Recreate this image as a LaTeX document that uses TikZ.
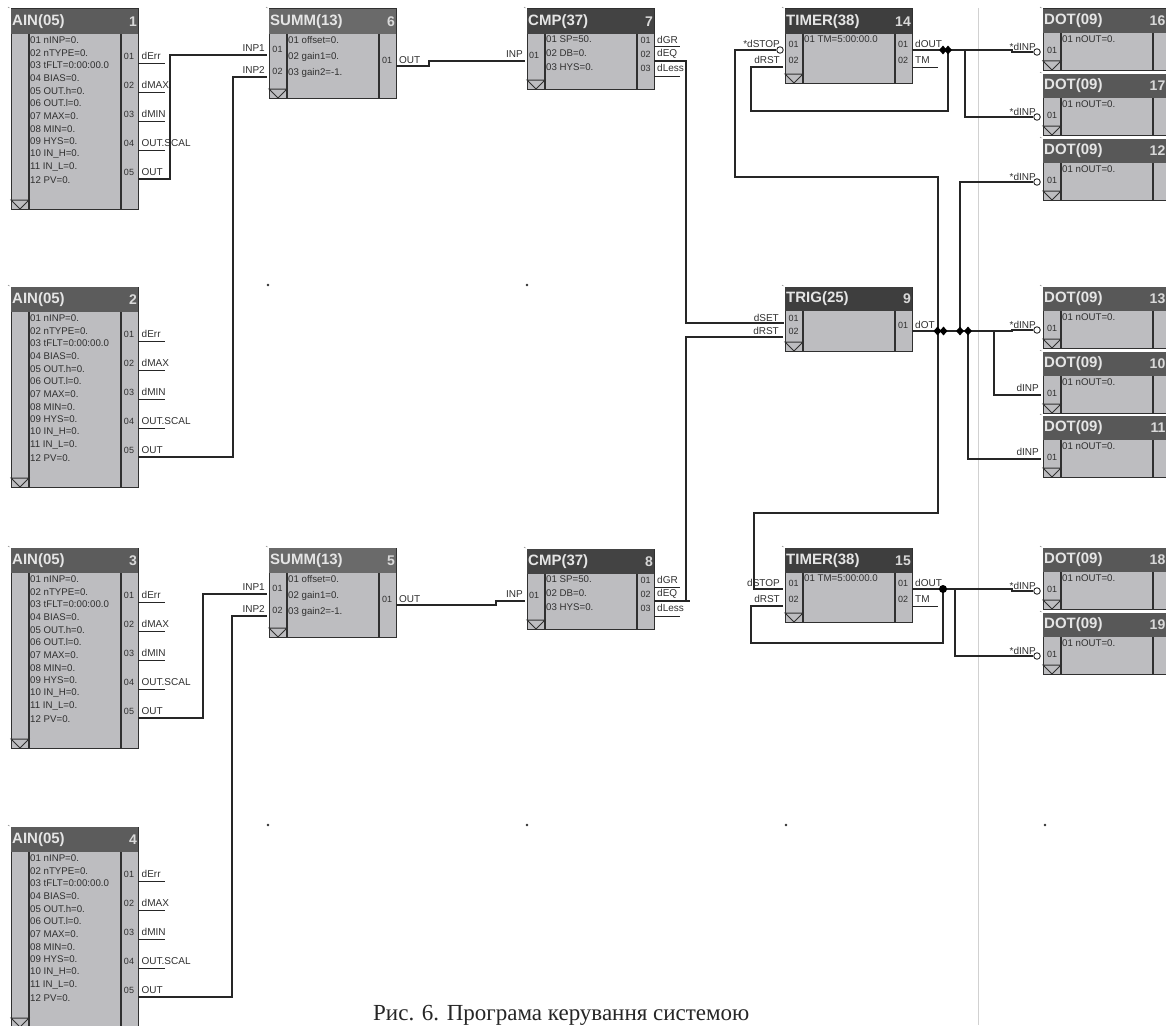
\documentclass[tikz,border=0pt]{standalone}
\usepackage{fontspec}
\setmainfont{Liberation Sans}
\newfontfamily\capfont{Liberation Serif}
\usetikzlibrary{shapes.geometric}
\definecolor{bodygray}{HTML}{BDBDC0}
\definecolor{inkc}{HTML}{303030}
\definecolor{wirec}{HTML}{262626}
\definecolor{tA}{HTML}{5C5C5C}
\definecolor{tS}{HTML}{6A6A6A}
\definecolor{tC}{HTML}{434343}
\definecolor{tT}{HTML}{3E3E3E}
\definecolor{tD}{HTML}{585858}
\tikzset{
  bodybox/.style={rectangle,draw=inkc,line width=1pt,fill=bodygray,inner sep=0pt,outer sep=0pt},
  titlebox/.style={rectangle,inner sep=0pt,outer sep=0pt},
  sepline/.style={draw=inkc,line width=1.3pt},
  titletext/.style={text=white!90!black,font=\fontsize{15}{16}\selectfont\bfseries,inner sep=0pt},
  numtext/.style={text=white!85!black,font=\fontsize{14}{15}\selectfont\bfseries,inner sep=0pt},
  ptext/.style={text=inkc,font=\fontsize{9.7}{10}\selectfont,inner sep=0pt,anchor=west},
  pintext/.style={text=inkc,font=\fontsize{9}{10}\selectfont,inner sep=0pt},
  sigl/.style={text=inkc,font=\fontsize{10}{11}\selectfont,inner sep=0pt,anchor=west},
  sigr/.style={text=inkc,font=\fontsize{10}{11}\selectfont,inner sep=0pt,anchor=east},
  wire/.style={draw=wirec,line width=1.2pt,line join=miter},
  joint/.style={diamond,fill=black,inner sep=0pt,minimum width=8pt,minimum height=9pt},
  jointc/.style={circle,fill=black,inner sep=0pt,minimum size=8pt},
  invc/.style={circle,draw=wirec,line width=.9pt,fill=white,inner sep=0pt,minimum size=6.5pt},
  griddot/.style={circle,fill=inkc,inner sep=0pt,minimum size=2.8pt},
}
\newcounter{tn}
\newcommand\lbl[4]{\stepcounter{tn}\node[#1] (t\thetn) at ({#2},{#3}) {#4};}
% name x1 y1 x2 y2 titlebottom title number titlecolour
\newcommand\fblk[9]{%
  \pgfmathsetmacro\bw{#4-#2}\pgfmathsetmacro\bh{#5-#3}%
  \pgfmathsetmacro\cx{(#2+#4)/2}\pgfmathsetmacro\cy{(#3+#5)/2}%
  \pgfmathsetmacro\hh{#6-#3}\pgfmathsetmacro\hy{(#3+#6)/2}%
  \pgfmathsetmacro\xl{#2+18}\pgfmathsetmacro\xr{#4-17}%
  \pgfmathsetmacro\xm{#2+9}\pgfmathsetmacro\yt{#5-9}%
  \pgfmathsetmacro\nx{min(#4-1,1165.5)}%
  \node[bodybox,minimum width=\bw pt,minimum height=\bh pt] (#1) at (\cx,\cy) {};
  \node[titlebox,fill=#9,minimum width=\bw pt,minimum height=\hh pt] (#1-h) at (\cx,\hy) {};
  \draw[sepline] (\xl,#6) -- (\xl,#5) (\xr,#6) -- (\xr,#5);
  \draw[sepline,line width=1pt] (#2,\yt) -- (\xl,\yt) -- (\xm,#5) -- cycle;
  \draw[gray,line width=.5pt] ({#2-3},{#3-2}) -- ++(1.5,1);
  \lbl{titletext,anchor=west}{#2+1}{\hy}{#7}
  \lbl{numtext,anchor=east}{\nx}{\hy}{#8}
}
\newcommand\ainblk[3]{% name top number
  \fblk{#1}{11}{#2}{138}{#2+200}{#2+25}{AIN(05)}{#3}{tA}
  \foreach \s [count=\i] in {01 nINP=0.,02 nTYPE=0.,03 tFLT=0:00:00.0,04 BIAS=0.,05 OUT.h=0.,06 OUT.l=0.,07 MAX=0.,08 MIN=0.,09 HYS=0.,10 IN\_H=0.,11 IN\_L=0.,12 PV=0.}
    {\lbl{ptext}{30}{#2+31+12.7*(\i-1)}{\s}}
  \foreach \s/\n/\d in {dErr/1/54,dMAX/2/83,dMIN/3/112,OUT.SCAL/4/141,OUT/5/170}{
    \coordinate (#1-o\n) at (138,{#2+\d});
    \draw[wire,line width=1pt] (#1-o\n) -- ++(27,0);
    \lbl{pintext}{129}{#2+\d-7}{0\n}
    \lbl{sigl}{141.5}{#2+\d-7}{\s}
  }
}
\newcommand\sumblk[3]{%
  \fblk{#1}{269}{#2}{396}{#2+89}{#2+25}{SUMM(13)}{#3}{tS}
  \lbl{ptext}{288}{#2+31}{01 offset=0.}
  \lbl{ptext}{288}{#2+47.5}{02 gain1=0.}
  \lbl{ptext}{288}{#2+64}{03 gain2=-1.}
  \coordinate (#1-i1) at (267,{#2+46});
  \coordinate (#1-i2) at (267,{#2+68});
  \coordinate (#1-o1) at (396,{#2+57});
  \lbl{sigr}{265}{#2+39}{INP1}
  \lbl{sigr}{265}{#2+61}{INP2}
  \lbl{pintext}{277.5}{#2+40}{01}
  \lbl{pintext}{277.5}{#2+62}{02}
  \lbl{pintext}{387}{#2+51}{01}
  \lbl{sigl}{399}{#2+51}{OUT}
}
\newcommand\cmpblk[3]{%
  \fblk{#1}{527}{#2}{654}{#2+80}{#2+25}{CMP(37)}{#3}{tC}
  \lbl{ptext}{546}{#2+30}{01 SP=50.}
  \lbl{ptext}{546}{#2+44}{02 DB=0.}
  \lbl{ptext}{546}{#2+58}{03 HYS=0.}
  \coordinate (#1-i1) at (525,{#2+52});
  \coordinate (#1-o1) at (654,{#2+38});
  \coordinate (#1-o2) at (654,{#2+52});
  \coordinate (#1-o3) at (654,{#2+67});
  \draw[wire,line width=1pt] (#1-o1) -- ++(26,0) (#1-o2) -- ++(26,0) (#1-o3) -- ++(26,0);
  \lbl{sigr}{523}{#2+45}{INP}
  \lbl{pintext}{534}{#2+46}{01}
  \lbl{pintext}{645.5}{#2+31}{01}
  \lbl{pintext}{645.5}{#2+45}{02}
  \lbl{pintext}{645.5}{#2+59}{03}
  \lbl{sigl}{657}{#2+31}{dGR}
  \lbl{sigl}{657}{#2+45}{dEQ}
  \lbl{sigl}{657}{#2+59}{dLess}
}
\newcommand\tmrblk[4]{% name top number stoplabel
  \fblk{#1}{785}{#2}{912}{#2+74}{#2+25}{TIMER(38)}{#3}{tT}
  \lbl{ptext}{804}{#2+30}{01 TM=5:00:00.0}
  \coordinate (#1-i1) at (783,{#2+41});
  \coordinate (#1-i2) at (783,{#2+58});
  \coordinate (#1-o1) at (912,{#2+41});
  \coordinate (#1-o2) at (912,{#2+58});
  \draw[wire,line width=1pt] (#1-o2) -- ++(26,0);
  \lbl{sigr}{780}{#2+35}{#4}
  \lbl{sigr}{780}{#2+51}{dRST}
  \lbl{pintext}{793.5}{#2+35}{01}
  \lbl{pintext}{793.5}{#2+51}{02}
  \lbl{pintext}{903}{#2+35}{01}
  \lbl{pintext}{903}{#2+51}{02}
  \lbl{sigl}{915}{#2+35}{dOUT}
  \lbl{sigl}{915}{#2+51}{TM}
}
\newcommand\dotblk[4]{% name top number labeltype(1=inverted)
  \fblk{#1}{1043}{#2}{1170}{#2+61}{#2+24}{DOT(09)}{#3}{tD}
  \lbl{ptext}{1062}{#2+30}{01 nOUT=0.}
  \lbl{pintext}{1052}{#2+41}{01}
  \ifnum#4=1
    \node[invc] (#1-i) at (1037,{#2+43}) {};
    \lbl{sigr}{1036}{#2+38}{*dINP}
  \else
    \coordinate (#1-i) at (1041,{#2+43});
    \lbl{sigr}{1039}{#2+36}{dINP}
  \fi
}
\begin{document}
\begin{tikzpicture}[x=1pt,y=-1pt]
\clip (0,0) rectangle (1166,1025);
\fill[white] (0,0) rectangle (1166,1025);
\draw[black!18,line width=.9pt] (978,8) -- (978,1025);
\foreach \gx/\gy [count=\g] in {268/285,527/285,268/825,527/825,786/825,1045/825}
  {\node[griddot] (gd\g) at (\gx,\gy) {};}
% blocks
\ainblk{a1}{9}{1}
\ainblk{a2}{287}{2}
\ainblk{a3}{548}{3}
\ainblk{a4}{827}{4}
\sumblk{s6}{9}{6}
\sumblk{s5}{548}{5}
\cmpblk{c7}{9}{7}
\cmpblk{c8}{549}{8}
\tmrblk{t14}{9}{14}{*dSTOP}
\tmrblk{t15}{548}{15}{dSTOP}
\fblk{t9}{785}{287}{912}{351}{311}{TRIG(25)}{9}{tT}
\coordinate (t9-i1) at (784,323);
\coordinate (t9-i2) at (783,337);
\coordinate (t9-o1) at (912,331);
\lbl{sigr}{779}{318}{dSET}
\lbl{sigr}{779}{331}{dRST}
\lbl{pintext}{793.5}{318}{01}
\lbl{pintext}{793.5}{331}{02}
\lbl{pintext}{903}{325}{01}
\lbl{sigl}{915}{325}{dOT}
\dotblk{d16}{9}{16}{1}
\dotblk{d17}{74}{17}{1}
\dotblk{d12}{139}{12}{1}
\dotblk{d13}{287}{13}{1}
\dotblk{d10}{352}{10}{0}
\dotblk{d11}{416}{11}{0}
\dotblk{d18}{548}{18}{1}
\dotblk{d19}{613}{19}{1}
% bend points
\coordinate (k1) at (170,55);
\coordinate (k2) at (233,77);
\coordinate (k3) at (203,594);
\coordinate (k4) at (232,616);
\coordinate (k5) at (429,61);
\coordinate (k6) at (496,601);
\coordinate (k7) at (686,323);
\coordinate (k8) at (686,601);
\coordinate (k9) at (690,601);
\coordinate (m1) at (735,177);
\coordinate (m2) at (938,177);
\coordinate (m3) at (938,513);
\coordinate (m4) at (754,513);
\coordinate (r1) at (751,111);
\coordinate (r2) at (948,111);
\coordinate (r3) at (948,50);
\coordinate (r4) at (751,643);
\coordinate (r5) at (943,643);
\coordinate (r6) at (943,589);
\coordinate (n1) at (1012,50);
\coordinate (n2) at (1012,52);
\coordinate (n3) at (965,50);
\coordinate (n4) at (960,331);
\coordinate (n5) at (1012,331);
\coordinate (n6) at (1012,330);
\coordinate (n7) at (994,331);
\coordinate (n8) at (968,331);
\coordinate (n9) at (1012,589);
\coordinate (n10) at (1012,591);
\coordinate (n11) at (955,589);
\node[invc] (c14) at (780,50) {};
% connectors
\draw[wire] (a1-o5) -| (k1) -- (s6-i1);
\draw[wire] (a2-o5) -| (k2) -- (s6-i2);
\draw[wire] (a3-o5) -| (k3) -- (s5-i1);
\draw[wire] (a4-o5) -| (k4) -- (s5-i2);
\draw[wire] (s6-o1) -| (k5) -- (c7-i1);
\draw[wire] (s5-o1) -| (k6) -- (c8-i1);
\draw[wire] (c7-o2) -| (k7) -- (t9-i1);
\draw[wire] (c8-o2) -- (k9);
\draw[wire] (t9-i2) -| (k8);
\draw[wire] (d16-i.west) -- (n2) -- (n1) -- (t14-o1);
\draw[wire] (d17-i.west) -| (n3);
\draw[wire] (d12-i.west) -| (n4);
\draw[wire] (d13-i.west) -- (n6) -- (n5) -- (t9-o1);
\draw[wire] (d10-i) -| (n7);
\draw[wire] (d11-i) -| (n8);
\draw[wire] (d18-i.west) -- (n10) -- (n9) -- (t15-o1);
\draw[wire] (d19-i.west) -| (n11);
\draw[wire,line width=2pt] (r6) -- (n11);
\draw[wire] (c14.west) -| (m1) -- (m2) -- (m3) -- (m4) |- (t15-i1);
\draw[wire] (t14-i2) -| (r1) -- (r2) -- (r3);
\draw[wire] (t15-i2) -| (r4) -- (r5) -- (r6);
\node[joint] (j1) at (943,50) {};
\node[joint] (j2) at (948,50) {};
\node[joint] (j3) at (937.5,331) {};
\node[joint] (j4) at (943.5,331) {};
\node[joint] (j5) at (960,331) {};
\node[joint] (j6) at (968,331) {};
\node[jointc] (j7) at (943,589) {};
\node[anchor=base west,inner sep=0pt,text=black!85,font=\capfont\fontsize{23}{26}\selectfont] (cap) at (373,1020) {Рис. 6. Програма керування системою};
\end{tikzpicture}
\end{document}
